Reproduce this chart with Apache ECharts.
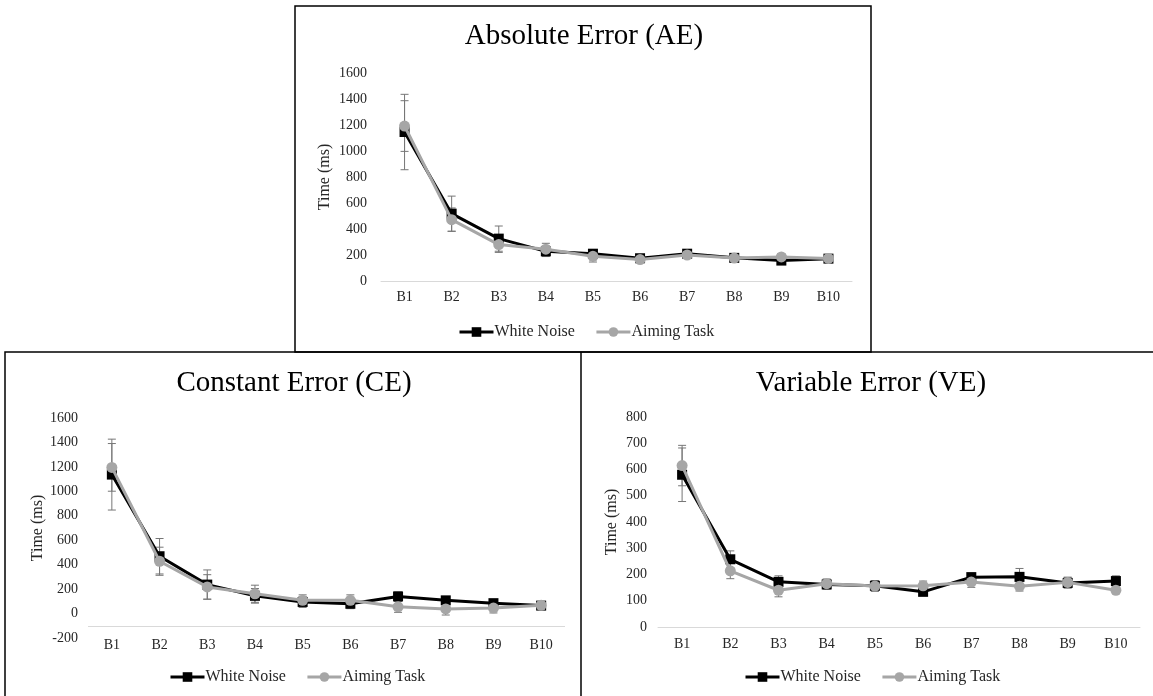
<!DOCTYPE html>
<html>
<head>
<meta charset="utf-8">
<script src="https://cdn.jsdelivr.net/npm/echarts@6/dist/echarts.min.js"></script>
<style>
  html, body { margin: 0; padding: 0; background: #fff; }
  #main { width: 1153px; height: 696px; }
</style>
</head>
<body>
<div id="main"></div>
<script>
  const blocks = ['B1', 'B2', 'B3', 'B4', 'B5', 'B6', 'B7', 'B8', 'B9', 'B10'];

  // Absolute Error (AE)
  const aeWhite = [1146, 518, 326, 228, 210, 175, 210, 178, 157, 172];
  const aeAiming = [1192, 472, 280, 245, 190, 165, 200, 176, 185, 174];
  const aeWhiteErr = [290, 135, 97, 40, 30, 20, 20, 15, 20, 15];
  const aeAimingErr = [195, 90, 60, 45, 44, 20, 20, 15, 25, 15];

  // Constant Error (CE)
  const ceWhite = [1137, 469, 237, 145, 95, 80, 140, 108, 85, 65];
  const ceAiming = [1196, 428, 218, 162, 108, 108, 55, 38, 45, 68];
  const ceWhiteErr = [290, 145, 120, 60, 45, 40, 38, 25, 20, 15];
  const ceAimingErr = [195, 115, 100, 70, 45, 45, 45, 50, 40, 15];

  // Variable Error (VE)
  const veWhite = [580, 258, 172, 162, 157, 134, 190, 191, 168, 175];
  const veAiming = [615, 214, 140, 165, 156, 157, 171, 155, 170, 140];
  const veWhiteErr = [102, 32, 23, 18, 20, 15, 15, 32, 20, 20];
  const veAimingErr = [77, 30, 25, 18, 20, 18, 20, 18, 20, 12];

  const font = "'Times New Roman', 'Liberation Serif', serif";
  const grey = '#a6a6a6';
  const textColor = '#262626';

  // panel layout: grid box, axis range, title/legend position
  const panels = [
    { title: 'Absolute Error (AE)', titleX: 584, titleY: 22,
      grid: { left: 381, top: 73, width: 471, height: 208 },
      min: 0, max: 1600, interval: 200, labelMargin: 14, nameGap: 48, xMargin: 9,
      legendLeft: 458, legendTop: 324,
      white: aeWhite, aiming: aeAiming, whiteErr: aeWhiteErr, aimingErr: aeAimingErr },
    { title: 'Constant Error (CE)', titleX: 294, titleY: 369,
      grid: { left: 88, top: 418, width: 477, height: 220 },
      min: -200, max: 1600, interval: 200, labelMargin: 10, nameGap: 42, xMargin: 0, axisAt: -100,
      legendLeft: 169, legendTop: 669,
      white: ceWhite, aiming: ceAiming, whiteErr: ceWhiteErr, aimingErr: ceAimingErr },
    { title: 'Variable Error (VE)', titleX: 871, titleY: 369,
      grid: { left: 658, top: 417, width: 482, height: 210 },
      min: 0, max: 800, interval: 100, labelMargin: 11, nameGap: 38, xMargin: 10,
      legendLeft: 744, legendTop: 669,
      white: veWhite, aiming: veAiming, whiteErr: veWhiteErr, aimingErr: veAimingErr }
  ];

  function errorSeries(idx, values, errs) {
    let data = [];
    for (let i = 0; i < values.length; i++) {
      data.push([i, values[i] - errs[i], values[i] + errs[i]]);
    }
    return {
      type: 'custom',
      xAxisIndex: idx,
      yAxisIndex: idx,
      silent: true,
      z: 1,
      data: data,
      renderItem: function (params, api) {
        let lo = api.coord([api.value(0), api.value(1)]);
        let hi = api.coord([api.value(0), api.value(2)]);
        let w = 4;
        let style = { stroke: '#767676', lineWidth: 1 };
        return {
          type: 'group',
          children: [
            { type: 'line', shape: { x1: lo[0], y1: lo[1], x2: hi[0], y2: hi[1] }, style: style },
            { type: 'line', shape: { x1: lo[0] - w, y1: lo[1], x2: lo[0] + w, y2: lo[1] }, style: style },
            { type: 'line', shape: { x1: hi[0] - w, y1: hi[1], x2: hi[0] + w, y2: hi[1] }, style: style }
          ]
        };
      }
    };
  }

  let grids = [], xAxes = [], yAxes = [], titles = [], legends = [], series = [];
  panels.forEach(function (p, idx) {
    grids.push(p.grid);
    titles.push({
      text: p.title, left: p.titleX, top: p.titleY, textAlign: 'center', padding: 0,
      textStyle: { fontFamily: font, fontSize: 29, fontWeight: 'normal', color: '#000' }
    });
    xAxes.push({
      type: 'category', gridIndex: idx, data: blocks, boundaryGap: true,
      axisTick: { show: false },
      axisLine: { show: p.axisAt === undefined, lineStyle: { color: '#d9d9d9', width: 1 } },
      axisLabel: { margin: p.xMargin, fontFamily: font, fontSize: 14, color: textColor }
    });
    yAxes.push({
      type: 'value', gridIndex: idx, min: p.min, max: p.max, interval: p.interval,
      name: 'Time (ms)', nameLocation: 'middle', nameGap: p.nameGap,
      nameTextStyle: { fontFamily: font, fontSize: 16, color: textColor },
      axisLine: { show: false }, axisTick: { show: false }, splitLine: { show: false },
      axisLabel: {
        margin: p.labelMargin, fontFamily: font, fontSize: 14, color: textColor,
        formatter: function (v) { return String(v); }
      }
    });
    legends.push({
      left: p.legendLeft, top: p.legendTop, padding: 0,
      itemWidth: 34, itemHeight: 12, itemGap: 20,
      data: ['White Noise', 'Aiming Task'],
      lineStyle: { width: 3 },
      textStyle: { fontFamily: font, fontSize: 16, color: textColor, padding: [0, 0, 0, -4] }
    });
    series.push(errorSeries(idx, p.white, p.whiteErr));
    series.push(errorSeries(idx, p.aiming, p.aimingErr));
    let white = {
      name: 'White Noise', type: 'line', xAxisIndex: idx, yAxisIndex: idx,
      data: p.white, symbol: 'rect', symbolSize: 10, z: 3,
      lineStyle: { color: '#000', width: 3 }, itemStyle: { color: '#000' }
    };
    if (p.axisAt !== undefined) {
      white.markLine = {
        silent: true, symbol: 'none', label: { show: false },
        lineStyle: { color: '#d9d9d9', width: 1, type: 'solid' },
        data: [{ yAxis: p.axisAt }]
      };
    }
    series.push(white);
    series.push({
      name: 'Aiming Task', type: 'line', xAxisIndex: idx, yAxisIndex: idx,
      data: p.aiming, symbol: 'circle', symbolSize: 11, z: 4,
      lineStyle: { color: grey, width: 3 }, itemStyle: { color: grey }
    });
  });

  // panel frames
  const frameStyle = { stroke: '#000', lineWidth: 1.5, fill: null };
  const frames = [
    { type: 'rect', shape: { x: 295, y: 6, width: 576, height: 346 }, style: frameStyle },
    { type: 'polyline', shape: { points: [[5, 696], [5, 352], [1153, 352]] }, style: frameStyle },
    { type: 'line', shape: { x1: 581, y1: 352, x2: 581, y2: 696 }, style: frameStyle }
  ];

  let chart = echarts.init(document.getElementById('main'));
  chart.setOption({
    animation: false,
    backgroundColor: '#fff',
    title: titles,
    legend: legends,
    grid: grids,
    xAxis: xAxes,
    yAxis: yAxes,
    series: series,
    graphic: frames
  });
</script>
</body>
</html>
